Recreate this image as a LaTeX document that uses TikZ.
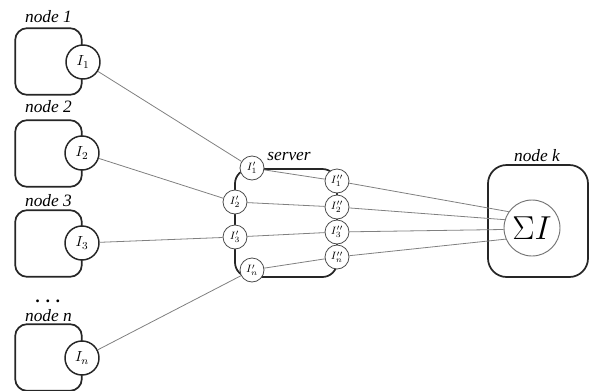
\documentclass[tikz,border=0pt]{standalone}
\usepackage{fontspec}
\setmainfont{Liberation Serif}
\begin{document}
\begin{tikzpicture}[x=0.75pt,y=-0.75pt,
  nodebox/.style={draw=black!85,line width=1.3pt,rounded corners=9pt,minimum width=50pt,minimum height=50pt,inner sep=0pt},
  icirc/.style={circle,draw=black!85,line width=1.1pt,fill=white,minimum size=25.5pt,inner sep=0pt,font=\fontsize{11}{12}\selectfont},
  scirc/.style={circle,draw=black!70,line width=0.6pt,fill=white,minimum size=18pt,inner sep=0pt,font=\fontsize{8}{9}\selectfont},
  lab/.style={font=\fontsize{13}{15}\selectfont\itshape,inner sep=0pt},
  conn/.style={draw=black!50,line width=0.6pt},
  srv/.style={draw=black!85,line width=1.3pt,rounded corners=11pt}]
\useasboundingbox (0,0) rectangle (590,390);
% node boxes
\node[nodebox] (b1) at (48.5,61.5) {};
\node[nodebox] (b2) at (48.5,153.5) {};
\node[nodebox] (b3) at (48.5,243.5) {};
\node[nodebox] (bn) at (48.5,357.5) {};
\node[lab] (l1) at (48.5,17) {node 1};
\node[lab] (l2) at (48.5,107) {node 2};
\node[lab] (l3) at (48.5,201) {node 3};
\node[lab] (dots) at (48.5,301) {\textbf{. . .}};
\node[lab] (ln) at (48.5,316) {node n};
% server box
\draw[srv] (235,169) rectangle (337,277);
\node[lab] (ls) at (289,156) {server};
% node k
\node[nodebox,rounded corners=14pt,minimum width=75pt,minimum height=84pt] (bk) at (538,221) {};
\node[lab] (lk) at (537,156) {node k};
\node[circle,draw=black!55,line width=0.7pt,fill=white,minimum size=42pt,inner sep=0pt,font=\fontsize{28}{30}\selectfont] (sum) at (532,228) {$\Sigma I$};
% circles
\node[icirc] (i1) at (83,62) {$I_1$};
\node[icirc] (i2) at (82,153) {$I_2$};
\node[icirc] (i3) at (82,243) {$I_3$};
\node[icirc] (in) at (82,358) {$I_n$};
\node[scirc] (t1) at (252,168) {$I'_1$};
\node[scirc] (t2) at (235,202) {$I'_2$};
\node[scirc] (t3) at (235,237) {$I'_3$};
\node[scirc] (tn) at (252,270) {$I'_n$};
\node[scirc] (u1) at (337,181) {$I''_1$};
\node[scirc] (u2) at (337,207) {$I''_2$};
\node[scirc] (u3) at (337,232) {$I''_3$};
\node[scirc] (un) at (337,257) {$I''_n$};
% connectors
\draw[conn] (i1) -- (t1);
\draw[conn] (i2) -- (t2);
\draw[conn] (i3) -- (t3);
\draw[conn] (in) -- (tn);
\draw[conn] (t1) -- (u1);
\draw[conn] (t2) -- (u2);
\draw[conn] (t3) -- (u3);
\draw[conn] (tn) -- (un);
\draw[conn] (u1) -- (sum.145);
\draw[conn] (u2) -- (sum.163);
\draw[conn] (u3) -- (sum.183);
\draw[conn] (un) -- (sum.203);
\end{tikzpicture}
\end{document}
